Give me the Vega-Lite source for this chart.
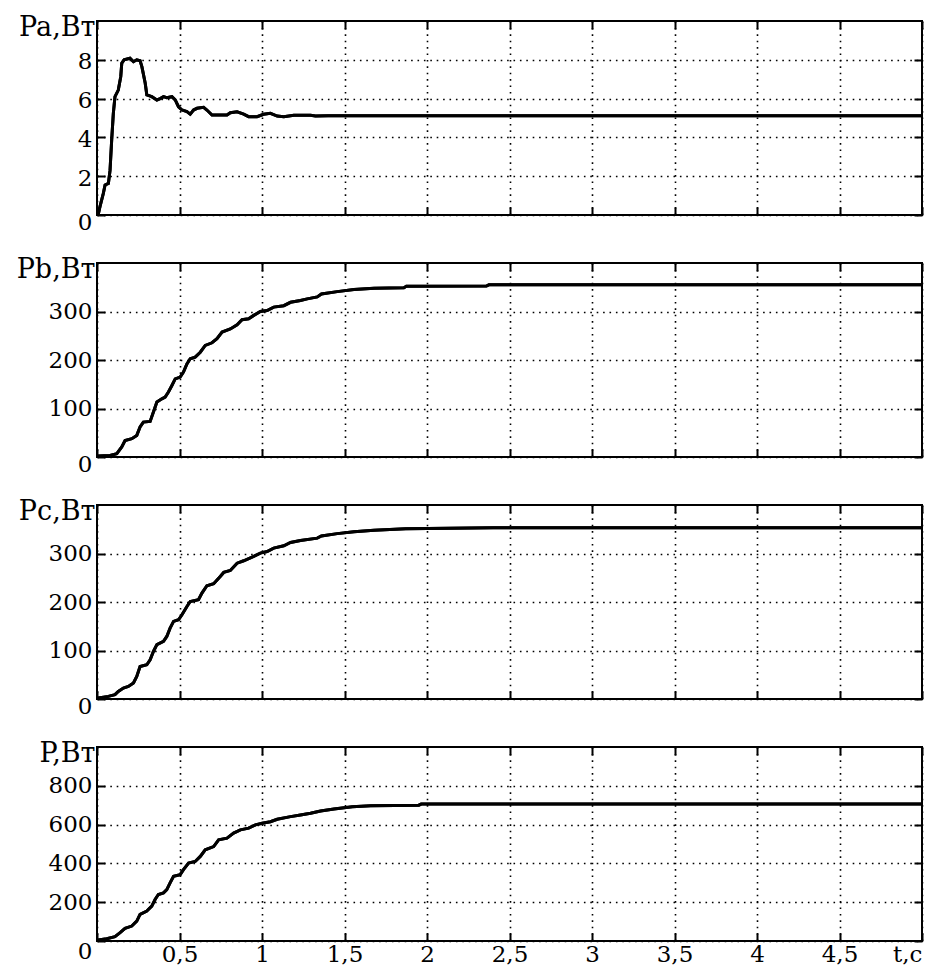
{
  "$schema": "https://vega.github.io/schema/vega-lite/v6.json",
  "background": "white",
  "padding": {"left": 15, "top": 12, "right": 3, "bottom": 2},
  "spacing": 48,
  "bounds": "flush",
  "datasets": {
    "pa": [
      {"t":0,"v":0},{"t":0.008,"v":0.05},{"t":0.018,"v":0.43},{"t":0.038,"v":1.1},{"t":0.049,"v":1.55},{"t":0.069,"v":1.63},{"t":0.079,"v":2.3},{"t":0.089,"v":3.87},{"t":0.099,"v":5.24},{"t":0.109,"v":6.1},{"t":0.129,"v":6.44},{"t":0.144,"v":7.13},{"t":0.15,"v":7.82},{"t":0.164,"v":8.0},{"t":0.2,"v":8.08},{"t":0.221,"v":7.9},{"t":0.241,"v":8.0},{"t":0.261,"v":7.95},{"t":0.272,"v":7.65},{"t":0.292,"v":6.8},{"t":0.302,"v":6.19},{"t":0.332,"v":6.1},{"t":0.363,"v":5.93},{"t":0.383,"v":6.0},{"t":0.403,"v":6.1},{"t":0.423,"v":6.05},{"t":0.454,"v":6.1},{"t":0.474,"v":5.93},{"t":0.494,"v":5.58},{"t":0.515,"v":5.41},{"t":0.545,"v":5.33},{"t":0.565,"v":5.2},{"t":0.585,"v":5.41},{"t":0.606,"v":5.5},{"t":0.646,"v":5.55},{"t":0.666,"v":5.41},{"t":0.697,"v":5.15},{"t":0.747,"v":5.15},{"t":0.788,"v":5.15},{"t":0.808,"v":5.27},{"t":0.849,"v":5.32},{"t":0.889,"v":5.2},{"t":0.919,"v":5.07},{"t":0.97,"v":5.07},{"t":1.01,"v":5.19},{"t":1.051,"v":5.24},{"t":1.092,"v":5.1},{"t":1.132,"v":5.07},{"t":1.193,"v":5.14},{"t":1.294,"v":5.14},{"t":1.324,"v":5.1},{"t":1.4,"v":5.12},{"t":5,"v":5.12}
    ],
    "pb": [
      {"t":0,"v":2},{"t":0.008,"v":2},{"t":0.079,"v":3.3},{"t":0.12,"v":6.8},{"t":0.15,"v":20.6},{"t":0.17,"v":34},{"t":0.211,"v":37.7},{"t":0.241,"v":44.5},{"t":0.261,"v":61.8},{"t":0.281,"v":72},{"t":0.322,"v":73.4},{"t":0.342,"v":92.7},{"t":0.363,"v":113.3},{"t":0.393,"v":120},{"t":0.413,"v":123.6},{"t":0.433,"v":134},{"t":0.454,"v":147.5},{"t":0.474,"v":161},{"t":0.504,"v":164.8},{"t":0.524,"v":175},{"t":0.545,"v":192},{"t":0.565,"v":202.6},{"t":0.595,"v":206},{"t":0.626,"v":216},{"t":0.656,"v":230},{"t":0.697,"v":235.5},{"t":0.727,"v":243.8},{"t":0.758,"v":257.6},{"t":0.808,"v":264},{"t":0.849,"v":272.6},{"t":0.879,"v":283},{"t":0.919,"v":285},{"t":0.95,"v":292},{"t":0.99,"v":300},{"t":1.031,"v":302},{"t":1.071,"v":309},{"t":1.132,"v":312},{"t":1.173,"v":319},{"t":1.233,"v":322.7},{"t":1.274,"v":326},{"t":1.335,"v":330},{"t":1.36,"v":336},{"t":1.456,"v":341},{"t":1.557,"v":345.4},{"t":1.679,"v":348},{"t":1.86,"v":349},{"t":1.875,"v":352},{"t":2.36,"v":352.5},{"t":2.375,"v":355},{"t":5,"v":355}
    ],
    "pc": [
      {"t":0,"v":2},{"t":0.008,"v":2},{"t":0.069,"v":5.4},{"t":0.109,"v":8.9},{"t":0.129,"v":15.7},{"t":0.16,"v":22.7},{"t":0.19,"v":26},{"t":0.221,"v":33},{"t":0.241,"v":46.6},{"t":0.261,"v":67},{"t":0.302,"v":70.7},{"t":0.322,"v":81},{"t":0.342,"v":98},{"t":0.363,"v":112},{"t":0.403,"v":118.7},{"t":0.423,"v":129},{"t":0.443,"v":146},{"t":0.464,"v":160},{"t":0.494,"v":163.4},{"t":0.515,"v":173.7},{"t":0.545,"v":190.8},{"t":0.565,"v":201},{"t":0.615,"v":204.6},{"t":0.636,"v":218.4},{"t":0.666,"v":233.5},{"t":0.707,"v":237.6},{"t":0.747,"v":252.6},{"t":0.768,"v":261},{"t":0.808,"v":265},{"t":0.849,"v":280},{"t":0.889,"v":285},{"t":0.95,"v":294},{"t":0.99,"v":300.8},{"t":1.031,"v":304},{"t":1.071,"v":311},{"t":1.132,"v":316},{"t":1.173,"v":322.7},{"t":1.233,"v":326.8},{"t":1.335,"v":331.6},{"t":1.36,"v":336},{"t":1.456,"v":341},{"t":1.557,"v":345},{"t":1.679,"v":348},{"t":1.871,"v":351},{"t":2.4,"v":353},{"t":5,"v":353}
    ],
    "p": [
      {"t":0,"v":5},{"t":0.008,"v":5},{"t":0.059,"v":12},{"t":0.109,"v":22.6},{"t":0.14,"v":43},{"t":0.17,"v":65},{"t":0.211,"v":77},{"t":0.241,"v":102.6},{"t":0.261,"v":137},{"t":0.302,"v":154},{"t":0.332,"v":179.5},{"t":0.352,"v":214},{"t":0.372,"v":239.5},{"t":0.403,"v":248},{"t":0.423,"v":265},{"t":0.443,"v":299.5},{"t":0.464,"v":333},{"t":0.504,"v":342},{"t":0.524,"v":367.7},{"t":0.555,"v":402},{"t":0.595,"v":410},{"t":0.626,"v":436},{"t":0.656,"v":470},{"t":0.707,"v":487},{"t":0.737,"v":521.5},{"t":0.788,"v":530},{"t":0.828,"v":556},{"t":0.869,"v":573},{"t":0.919,"v":581.5},{"t":0.96,"v":598.5},{"t":1.001,"v":607},{"t":1.051,"v":615},{"t":1.092,"v":627.7},{"t":1.173,"v":641},{"t":1.233,"v":650},{"t":1.294,"v":658.5},{"t":1.355,"v":670},{"t":1.436,"v":680.5},{"t":1.547,"v":692},{"t":1.659,"v":697},{"t":1.95,"v":700},{"t":1.965,"v":706},{"t":5,"v":706}
    ]
  },
  "vconcat": [
    {
      "data": {"name": "pa"},
      "width": 825, "height": 194,
      "layer": [
        {
          "mark": {"type": "line", "color": "black", "strokeWidth": 3},
          "encoding": {
            "x": {"field": "t", "type": "quantitative", "scale": {"domain": [0, 5], "nice": false}, "axis": {"orient": "bottom", "values": [0,0.5,1,1.5,2,2.5,3,3.5,4,4.5,5], "labels": false, "grid": true, "title": null}},
            "y": {"field": "v", "type": "quantitative", "scale": {"domain": [0, 10], "nice": false}, "axis": {"orient": "left", "values": [0,2,4,6,8], "grid": true, "title": "Pa,Вт", "labelOffset": {"condition": {"test": "datum.value == 0", "value": 7}, "value": 2}}}
          }
        },
        {
          "mark": {"type": "line", "color": "black", "strokeWidth": 3},
          "encoding": {
            "x": {"field": "t", "type": "quantitative", "axis": {"orient": "top", "values": [0,0.5,1,1.5,2,2.5,3,3.5,4,4.5,5], "labels": false, "grid": false, "title": null}},
            "y": {"field": "v", "type": "quantitative", "axis": {"orient": "right", "values": [0,2,4,6,8], "labels": false, "grid": false, "title": null}}
          }
        }
      ],
      "resolve": {"axis": {"x": "independent", "y": "independent"}}
    },
    {
      "data": {"name": "pb"},
      "width": 825, "height": 194,
      "layer": [
        {
          "mark": {"type": "line", "color": "black", "strokeWidth": 3},
          "encoding": {
            "x": {"field": "t", "type": "quantitative", "scale": {"domain": [0, 5], "nice": false}, "axis": {"orient": "bottom", "values": [0,0.5,1,1.5,2,2.5,3,3.5,4,4.5,5], "labels": false, "grid": true, "title": null}},
            "y": {"field": "v", "type": "quantitative", "scale": {"domain": [0, 400], "nice": false}, "axis": {"orient": "left", "values": [0,100,200,300], "grid": true, "title": "Pb,Вт", "labelOffset": {"condition": {"test": "datum.value == 0", "value": 7}, "value": 0}}}
          }
        },
        {
          "mark": {"type": "line", "color": "black", "strokeWidth": 3},
          "encoding": {
            "x": {"field": "t", "type": "quantitative", "axis": {"orient": "top", "values": [0,0.5,1,1.5,2,2.5,3,3.5,4,4.5,5], "labels": false, "grid": false, "title": null}},
            "y": {"field": "v", "type": "quantitative", "axis": {"orient": "right", "values": [0,100,200,300], "labels": false, "grid": false, "title": null}}
          }
        }
      ],
      "resolve": {"axis": {"x": "independent", "y": "independent"}}
    },
    {
      "data": {"name": "pc"},
      "width": 825, "height": 194,
      "layer": [
        {
          "mark": {"type": "line", "color": "black", "strokeWidth": 3},
          "encoding": {
            "x": {"field": "t", "type": "quantitative", "scale": {"domain": [0, 5], "nice": false}, "axis": {"orient": "bottom", "values": [0,0.5,1,1.5,2,2.5,3,3.5,4,4.5,5], "labels": false, "grid": true, "title": null}},
            "y": {"field": "v", "type": "quantitative", "scale": {"domain": [0, 400], "nice": false}, "axis": {"orient": "left", "values": [0,100,200,300], "grid": true, "title": "Pc,Вт", "labelOffset": {"condition": {"test": "datum.value == 0", "value": 7}, "value": 0}}}
          }
        },
        {
          "mark": {"type": "line", "color": "black", "strokeWidth": 3},
          "encoding": {
            "x": {"field": "t", "type": "quantitative", "axis": {"orient": "top", "values": [0,0.5,1,1.5,2,2.5,3,3.5,4,4.5,5], "labels": false, "grid": false, "title": null}},
            "y": {"field": "v", "type": "quantitative", "axis": {"orient": "right", "values": [0,100,200,300], "labels": false, "grid": false, "title": null}}
          }
        }
      ],
      "resolve": {"axis": {"x": "independent", "y": "independent"}}
    },
    {
      "data": {"name": "p"},
      "width": 825, "height": 194,
      "layer": [
        {
          "mark": {"type": "line", "color": "black", "strokeWidth": 3},
          "encoding": {
            "x": {"field": "t", "type": "quantitative", "scale": {"domain": [0, 5], "nice": false}, "axis": {"orient": "bottom", "values": [0,0.5,1,1.5,2,2.5,3,3.5,4,4.5,5], "labels": true, "labelFlush": true, "labelBaseline": "top", "labelPadding": 10, "labelExpr": "datum.value == 0 ? '' : datum.value == 5 ? 't,с' : replace(toString(datum.value), '.', ',')", "grid": true, "title": null}},
            "y": {"field": "v", "type": "quantitative", "scale": {"domain": [0, 1000], "nice": false}, "axis": {"orient": "left", "values": [0,200,400,600,800], "grid": true, "title": "P,Вт", "labelOffset": {"condition": {"test": "datum.value == 0", "value": 10}, "value": 0}}}
          }
        },
        {
          "mark": {"type": "line", "color": "black", "strokeWidth": 3},
          "encoding": {
            "x": {"field": "t", "type": "quantitative", "axis": {"orient": "top", "values": [0,0.5,1,1.5,2,2.5,3,3.5,4,4.5,5], "labels": false, "grid": false, "title": null}},
            "y": {"field": "v", "type": "quantitative", "axis": {"orient": "right", "values": [0,200,400,600,800], "labels": false, "grid": false, "title": null}}
          }
        }
      ],
      "resolve": {"axis": {"x": "independent", "y": "independent"}}
    }
  ],
  "config": {
    "view": {"stroke": "black", "strokeWidth": 2},
    "axis": {
      "domain": false,
      "tickColor": "black", "tickWidth": 2, "tickSize": -8,
      "gridColor": "black", "gridDash": [1.6, 4.8], "gridWidth": 1.6, "gridOpacity": 1,
      "labelFont": "DejaVu Serif", "labelFontSize": 23, "labelColor": "black",
      "labelPadding": 13,
      "titleFont": "DejaVu Serif", "titleFontSize": 27, "titleFontWeight": "normal", "titleColor": "black",
      "titleAngle": 0, "titleAlign": "right", "titleBaseline": "alphabetic", "titleX": -2, "titleY": 14
    },
    "axisLeft": {"labelBaseline": "middle"}
  }
}
